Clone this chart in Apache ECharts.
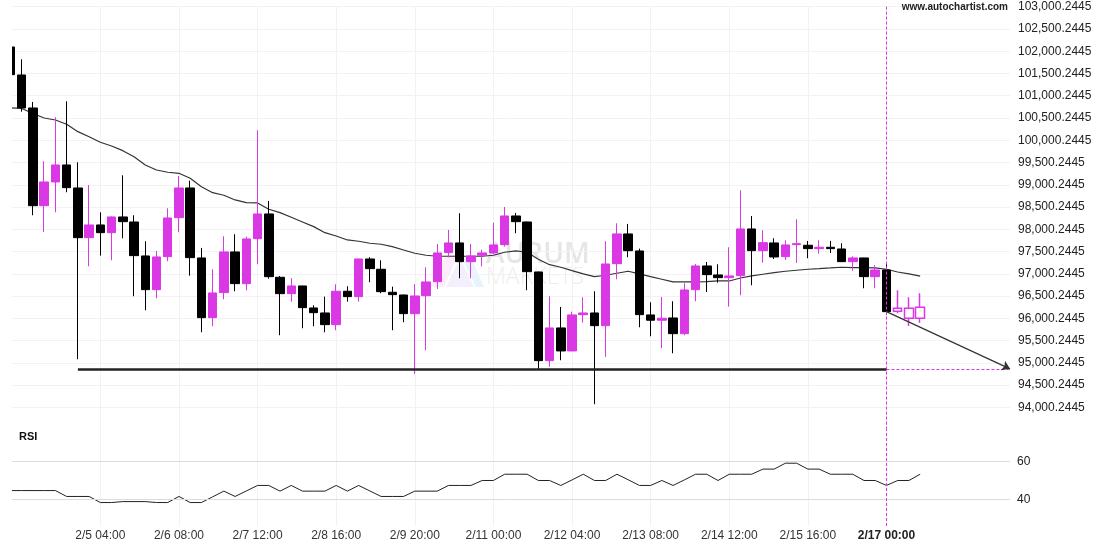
<!DOCTYPE html>
<html><head><meta charset="utf-8">
<script src="https://cdn.jsdelivr.net/npm/echarts@6/dist/echarts.min.js"></script>
<style>html,body{margin:0;padding:0;background:#fff}#c{width:1110px;height:550px}</style>
</head><body><div id="c"></div>
<script>
// ---- data (4-hour candles) ----
const opens  = [102095,101466,100725,98530,99063,99445,98928,97812,98097,97924,98277,98164,97401,96644,97385,98261,98928,97356,96015,96577,97491,96779,97789,98344,96922,96554,96727,96233,96120,95858,96608,96487,97333,97102,96585,96524,96105,96509,96824,97476,97693,97273,97417,97468,97655,98299,98164,97041,95049,95784,95267,96082,96120,95835,97228,97895,97513,96076,95957,96008,95655,96644,97176,96974,96913,96958,98007,97520,97693,97385,97655,97641,97565,97596,97558,97273,97356,96936,97086,96159,96226,96002];
const closes = [101473,100725,98530,99063,99445,98935,97812,98097,97924,98277,98171,97408,96644,97378,98254,98928,97363,96015,96570,97491,96779,97783,98344,96936,96554,96727,96240,96127,95858,96608,96487,97333,97116,96599,96532,96105,96502,96817,97468,97693,97273,97401,97468,97648,98299,98171,97048,95049,95784,95267,96076,96120,95835,97221,97895,97520,96082,95957,96002,95655,96637,97176,96981,96913,96952,98007,97520,97700,97378,97648,97677,97565,97596,97565,97273,97356,96936,97086,96150,96226,96002,96248];
const lows   = [101473,100642,98315,97940,98382,98832,95080,97169,97408,97304,97798,96496,96181,96451,97282,97933,96958,95687,95822,96428,96608,96630,97214,96891,95620,96374,95777,95822,95687,95732,96374,96374,96810,96563,95732,95912,94751,95283,96660,97372,96900,96900,97169,97440,97610,97911,96630,94863,94915,95058,95260,95903,94070,95132,96878,97372,95799,95597,95328,95215,95620,96383,96592,96801,96262,96518,96743,97250,97333,97311,97244,97349,97453,97468,97270,97071,96675,96675,96082,96114,95828,95900];
const highs  = [102095,101819,100860,99528,100516,100875,99505,98995,98382,98290,99213,98315,97731,97513,98472,99198,99092,97581,97102,97843,97888,97834,100224,98636,96952,96900,96730,96293,96487,96765,96720,97340,97372,97304,96711,96530,96765,97147,97670,97985,98360,97670,97542,98149,98501,98367,98170,97050,96496,96255,96150,96473,96608,97731,98135,98120,97565,96361,96480,96383,96787,97221,97266,97214,97596,98876,98299,97978,97798,97753,98225,97738,97753,97738,97686,97394,97360,97192,97266,96630,96473,96563];
const maLine = [100725,100714,100600,100500,100455,100359,100193,100080,99955,99871,99766,99631,99445,99332,99281,99258,99146,98957,98822,98764,98659,98598,98591,98450,98374,98270,98164,98059,97924,97850,97760,97731,97686,97664,97610,97535,97461,97416,97394,97394,97394,97394,97394,97416,97484,97513,97484,97327,97205,97147,97071,96997,96936,96967,97012,97057,96997,96936,96878,96817,96817,96817,96824,96839,96839,96905,96952,96990,97026,97057,97080,97102,97116,97131,97147,97138,97138,97131,97102,97041,96997,96946];
const rsi = [44.7,44.7,44.7,44.7,44.7,41.6,41.6,41.6,38.4,38.4,38.9,38.9,38.9,38.4,38.4,41.6,38.4,38.4,41.4,44.4,41.6,44.5,47.4,47.4,44.4,47.4,44.4,44.4,44.4,47.4,44.4,47.4,44.5,41.6,41.6,41.6,44.4,44.4,44.4,47.4,47.4,47.4,50,50,53.3,53.3,53.3,50,50,47.4,50.3,53.3,50,50,53.3,50.4,47.4,47.4,50,47.4,50.3,53.3,53.3,50,53.3,53.3,53.3,56,56,59.1,59.1,56,56,53.3,53.3,53.3,50,50,47.4,50,50,53.3];
const hollowFrom = 79;          // last three candles drawn hollow
const slotCount = 90;           // candle slots incl. empty space on the right
const tickIndexes = [8,15,22,29,36,43,50,57,64,71,78];
const tickTexts = ['2/5 04:00','2/6 08:00','2/7 12:00','2/8 16:00','2/9 20:00','2/11 00:00','2/12 04:00','2/13 08:00','2/14 12:00','2/15 16:00','2/17 00:00'];
const nowIndex = 78;
const supportLevel = 94865;
const supportStart = 6;
const arrowFrom = [78, 96150];
const arrowTo = [89, 94865];
const rsiLevels = [60, 40];

// ---- chart ----
const MAG = '#da38e4';
const FONT = 'Liberation Sans, Arial, sans-serif';
const categories = Array.from({length: slotCount}, (_, i) => String(i));
const candleData = opens.map((o, i) => {
  const v = [o, closes[i], lows[i], highs[i]];
  if (i >= hollowFrom) return {value: v, itemStyle: {color: '#fff', color0: '#fff', borderColor: MAG, borderColor0: '#000', borderWidth: 1.5}};
  return v;
});
const isTick = (idx) => tickIndexes.indexOf(idx) >= 0;
function fmtPrice(v) { return String(Math.round(v)).replace(/\B(?=(\d{3})+(?!\d))/g, ',') + '.2445'; }

const chart = echarts.init(document.getElementById('c'));
chart.setOption({
  animation: false,
  backgroundColor: '#fff',
  grid: [
    {left: 10.5, right: 100, top: 6.7, bottom: 120.4},
    {left: 10.5, right: 100, top: 429.6, bottom: 24}
  ],
  xAxis: [
    {type: 'category', gridIndex: 0, data: categories, boundaryGap: false,
     axisLine: {show: false}, axisTick: {show: false}, axisLabel: {show: false},
     splitLine: {show: true, interval: (i) => isTick(i), lineStyle: {color: '#f2f2f2'}}},
    {type: 'category', gridIndex: 1, data: categories, boundaryGap: false,
     axisLine: {show: false}, axisTick: {show: false},
     axisLabel: {interval: (i) => isTick(i), margin: 4, color: '#333', fontSize: 12, fontFamily: FONT,
       formatter: (v, i) => { const k = tickIndexes.indexOf(Number(v)); if (k < 0) return ''; return Number(v) === nowIndex ? '{b|' + tickTexts[k] + '}' : tickTexts[k]; },
       rich: {b: {fontWeight: 'bold', fontSize: 12, color: '#222', fontFamily: FONT}}},
     splitLine: {show: true, interval: (i) => isTick(i), lineStyle: {color: '#f2f2f2'}}}
  ],
  yAxis: [
    {type: 'value', gridIndex: 0, position: 'right', min: 93500, max: 103000, interval: 500,
     axisLine: {show: false}, axisTick: {show: false},
     axisLabel: {showMinLabel: false, margin: 8, color: '#222', fontSize: 12, fontFamily: FONT, formatter: fmtPrice},
     splitLine: {show: true, showMinLine: false, lineStyle: {color: '#f2f2f2'}}},
    {type: 'value', gridIndex: 1, min: 26.05, max: 76.79, show: false}
  ],
  graphic: [
    {type: 'rect', z: 50, silent: true, shape: {x: 0, y: 0, width: 12, height: 550}, style: {fill: '#fff'}},
    {type: 'text', z: 100, style: {x: 1008, y: 7, text: 'www.autochartist.com', align: 'right', verticalAlign: 'middle', font: 'bold 10px Liberation Sans, Arial', fill: '#222'}},
    {type: 'text', z: 100, style: {x: 19, y: 437, text: 'RSI', align: 'left', verticalAlign: 'middle', font: 'bold 11px Liberation Sans, Arial', fill: '#111'}},
    {type: 'text', z: -10, style: {x: 486, y: 255, text: 'AURUM', align: 'left', verticalAlign: 'middle', font: '600 28px Open Sans, Liberation Sans', fill: '#e6e6e6'}},
    {type: 'text', z: -10, style: {x: 486, y: 277, text: 'MARKETS', align: 'left', verticalAlign: 'middle', font: '300 23px Open Sans, Liberation Sans', fill: '#ededed'}},
    {type: 'polygon', z: -10, shape: {points: [[430,287],[446,255],[458,255],[444,287]]}, style: {fill: 'rgba(240,170,230,0.22)'}},
    {type: 'polygon', z: -10, shape: {points: [[446,287],[460,258],[474,287]]}, style: {fill: 'rgba(200,180,240,0.22)'}},
    {type: 'polygon', z: -10, shape: {points: [[462,258],[470,255],[484,287],[476,287]]}, style: {fill: 'rgba(170,215,245,0.28)'}}
  ],
  series: [
    {type: 'line', name: 'MA', xAxisIndex: 0, yAxisIndex: 0, data: maLine, z: 2,
     showSymbol: false, symbol: 'none', lineStyle: {color: '#333', width: 1.2}, clip: true,
     markLine: {silent: true, symbol: ['none', 'none'], animation: false, label: {show: false},
       data: [
         {xAxis: nowIndex, lineStyle: {color: MAG, type: [3, 2], width: 1}},
         [{coord: [supportStart, supportLevel], lineStyle: {color: '#222', width: 2.5, type: 'solid'}}, {coord: [nowIndex, supportLevel]}],
         [{coord: [nowIndex, supportLevel], lineStyle: {color: MAG, width: 1, type: [3, 2]}}, {coord: [arrowTo[0], supportLevel]}],
         [{coord: arrowFrom, lineStyle: {color: '#333', width: 1.2, type: 'solid'}}, {coord: arrowTo, symbol: 'arrow', symbolSize: 8}]
       ]}},
    {type: 'candlestick', name: 'Price', xAxisIndex: 0, yAxisIndex: 0, data: candleData, z: 3, barWidth: 9, clip: true,
     itemStyle: {color: MAG, color0: '#000', borderColor: MAG, borderColor0: '#000', borderWidth: 1}},
    {type: 'line', name: 'RSI', xAxisIndex: 1, yAxisIndex: 1, data: rsi, showSymbol: false, symbol: 'none',
     lineStyle: {color: '#222', width: 1},
     markLine: {silent: true, symbol: ['none', 'none'], animation: false,
       data: [
         ...rsiLevels.map(l => ({yAxis: l, lineStyle: {color: '#dcdcdc', width: 1, type: 'solid'},
            label: {show: true, position: 'end', distance: 7, formatter: String(l), color: '#222', fontSize: 12, fontFamily: FONT}})),
         {xAxis: nowIndex, lineStyle: {color: MAG, type: [3, 2], width: 1}, label: {show: false}}
       ]}}
  ]
});
</script>
</body></html>
